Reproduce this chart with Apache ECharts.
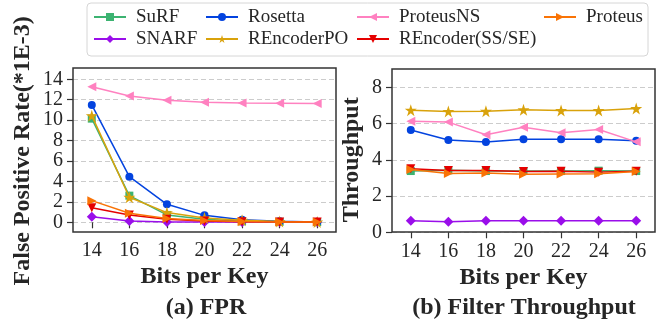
<!DOCTYPE html>
<html><head><meta charset="utf-8">
<script src="https://cdn.jsdelivr.net/npm/echarts@6/dist/echarts.min.js"></script>
<style>html,body{margin:0;padding:0;background:#fff}#c{width:668px;height:329px}</style>
</head><body><div id="c"></div><script>
// ---- data ----
const bits = ['14', '16', '18', '20', '22', '24', '26'];
const seriesNames = ['SuRF', 'SNARF', 'Rosetta', 'REncoderPO', 'ProteusNS', 'REncoder(SS/SE)', 'Proteus'];
// FPR (*1E-3)
const fprSuRF     = [10.15, 2.61, 0.72, 0.30, 0.10, 0.05, 0.02];
const fprSNARF    = [0.55, 0.13, 0.04, 0.02, 0.02, 0.02, 0.02];
const fprRosetta  = [11.49, 4.47, 1.76, 0.68, 0.26, 0.10, 0.03];
const fprREncPO   = [10.44, 2.45, 0.95, 0.42, 0.20, 0.08, 0.03];
const fprProtNS   = [13.28, 12.37, 11.95, 11.75, 11.68, 11.65, 11.62];
const fprREnc     = [1.43, 0.71, 0.29, 0.13, 0.06, 0.03, 0.02];
const fprProteus  = [2.12, 0.88, 0.38, 0.18, 0.08, 0.04, 0.02];
// Throughput
const thrSuRF     = [3.38, 3.42, 3.38, 3.38, 3.38, 3.40, 3.38];
const thrSNARF    = [0.64, 0.58, 0.64, 0.64, 0.64, 0.64, 0.64];
const thrRosetta  = [5.64, 5.09, 4.98, 5.14, 5.14, 5.14, 5.05];
const thrREncPO   = [6.74, 6.67, 6.68, 6.76, 6.72, 6.72, 6.83];
const thrProtNS   = [6.13, 6.08, 5.38, 5.80, 5.49, 5.67, 4.99];
const thrREnc     = [3.50, 3.41, 3.41, 3.35, 3.37, 3.32, 3.37];
const thrProteus  = [3.46, 3.25, 3.27, 3.20, 3.22, 3.23, 3.36];
const fprTicks = [0, 14, 2];
const thrTicks = [0, 8, 2];

const fprData = [fprSuRF, fprSNARF, fprRosetta, fprREncPO, fprProtNS, fprREnc, fprProteus];
const thrData = [thrSuRF, thrSNARF, thrRosetta, thrREncPO, thrProtNS, thrREnc, thrProteus];

// ---- styles ----
const STAR = 'path://M50,0 L61.2,34.5 L97.6,34.5 L68.2,55.9 L79.4,90.5 L50,69.1 L20.6,90.5 L31.8,55.9 L2.4,34.5 L38.8,34.5 Z';
const styles = [
  {color: '#3cb371', symbol: 'rect', size: 8, rot: 0},
  {color: '#9a0eea', symbol: 'diamond', size: 10, rot: 0},
  {color: '#0343df', symbol: 'circle', size: 8, rot: 0},
  {color: '#d9a20b', symbol: STAR, size: 12, rot: 0},
  {color: '#ff81c0', symbol: 'triangle', size: 9, rot: 90},
  {color: '#e50000', symbol: 'triangle', size: 9, rot: 180},
  {color: '#f97306', symbol: 'triangle', size: 9, rot: -90}
];
const FONT = 'Liberation Serif';
const TXT = '#262626';

function mkSeries(dataArr, idx) {
  return dataArr.map((d, i) => ({
    name: seriesNames[i], type: 'line', xAxisIndex: idx, yAxisIndex: idx,
    data: d, symbol: styles[i].symbol, symbolSize: styles[i].size, symbolRotate: styles[i].rot,
    itemStyle: {color: styles[i].color}, lineStyle: {color: styles[i].color, width: 1.5},
    clip: false, z: 3 + i, animation: false
  }));
}

const legendPos = [
  [93, 7], [93, 29], [205, 7], [205, 29], [356, 7], [356, 29], [543, 7]
];
const legends = seriesNames.map((n, i) => ({
  data: [n], left: legendPos[i][0], top: legendPos[i][1], padding: 0,
  itemWidth: 32, itemHeight: 10, itemGap: 0,
  textStyle: {fontFamily: FONT, fontSize: 19, color: TXT, padding: [0, 0, 0, 5], lineHeight: 20}
}));

function xAx(idx, offset) {
  return {
    type: 'category', gridIndex: idx, data: bits, boundaryGap: true, offset: offset,
    axisLine: {show: false},
    axisTick: {show: true, alignWithLabel: true, length: 6, lineStyle: {color: '#333', width: 1.2}},
    axisLabel: {fontFamily: FONT, fontSize: 20, color: TXT, margin: 9},
    name: 'Bits per Key', nameLocation: 'middle', nameGap: 33,
    nameTextStyle: {fontFamily: FONT, fontSize: 24, fontWeight: 'bold', color: TXT}
  };
}
function yAx(idx, t, name, gap) {
  return {
    type: 'value', gridIndex: idx, min: t[0], max: t[1], interval: t[2],
    axisLine: {show: false},
    axisTick: {show: true, length: 6, lineStyle: {color: '#333', width: 1.2}},
    axisLabel: {fontFamily: FONT, fontSize: 20, color: TXT, margin: 10},
    splitLine: {show: true, lineStyle: {type: [5, 3], color: '#cccccc', width: 1}},
    name: name, nameLocation: 'middle', nameGap: gap,
    nameTextStyle: {fontFamily: FONT, fontSize: 24, fontWeight: 'bold', color: TXT}
  };
}

const option = {
  backgroundColor: '#fff',
  animation: false,
  legend: legends,
  grid: [
    {left: 73, right: 332, top: 79.3, bottom: 106.7},
    {left: 392, right: 13, top: 87.3, bottom: 96.7}
  ],
  xAxis: [xAx(0, 9.7), xAx(1, 0)],
  yAxis: [yAx(0, fprTicks, 'False Positive Rate(*1E-3)', 38), yAx(1, thrTicks, 'Throughput', 28)],
  series: mkSeries(fprData, 0).concat(mkSeries(thrData, 1)),
  graphic: [
    {type: 'rect', shape: {x: 73, y: 68, width: 263, height: 164}, style: {fill: 'none', stroke: '#333', lineWidth: 1.5}, z: 20, silent: true},
    {type: 'rect', shape: {x: 392, y: 69, width: 263, height: 163}, style: {fill: 'none', stroke: '#333', lineWidth: 1.5}, z: 20, silent: true},
    {type: 'rect', shape: {x: 87, y: 3, width: 561, height: 53, r: 4}, style: {fill: 'rgba(255,255,255,0.8)', stroke: '#d6d6d6', lineWidth: 1}, z: 0, silent: true},
    {type: 'text', style: {text: '(a) FPR', x: 206, y: 308, align: 'center', verticalAlign: 'middle', fontFamily: FONT, fontSize: 24, fontWeight: 'bold', fill: TXT}, z: 20},
    {type: 'text', style: {text: '(b) Filter Throughput', x: 524, y: 308, align: 'center', verticalAlign: 'middle', fontFamily: FONT, fontSize: 24, fontWeight: 'bold', fill: TXT}, z: 20}
  ]
};
const chart = echarts.init(document.getElementById('c'), null, {renderer: 'canvas'});
chart.setOption(option);
</script></body></html>
